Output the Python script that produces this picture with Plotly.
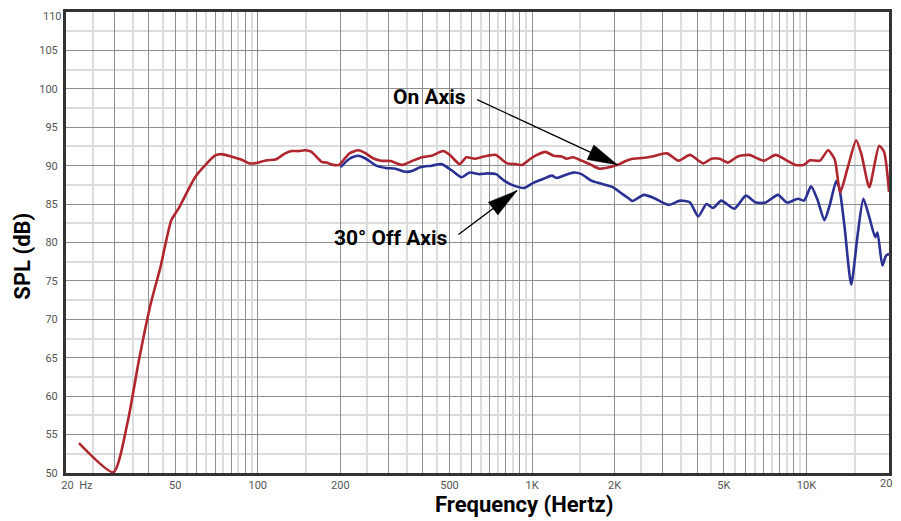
import math
import plotly.graph_objects as go

# ---------------- data ----------------
on_freq = [22.3, 29.8, 33.5, 36.9, 40.7, 44.2, 48.4, 51.4, 59.1, 64.1, 69.7, 73.6, 80.0, 86.9, 93.1,
           97.1, 108, 116, 126, 133, 141, 149, 157, 171, 178, 188, 198, 204, 216, 232, 245, 262,
           281, 305, 336, 365, 397, 431, 474, 501, 545, 576, 617, 652, 689, 739, 770, 813, 871,
           921, 987, 1042, 1117, 1197, 1282, 1336, 1412, 1513, 1622, 1762, 1914, 2050, 2196, 2322,
           2522, 2740, 3102, 3418, 3764, 4204, 4504, 4826, 5172, 5618, 6186, 7002, 7716, 8502,
           9106, 9752, 10310, 11202, 11998, 12684, 13274, 14158, 15180, 15862, 16952, 18410,
           19190, 20000]
on_db = [53.9, 50.1, 56.5, 64.7, 72.0, 76.8, 82.9, 84.4, 88.5, 90.0, 91.3, 91.5, 91.2, 90.8, 90.3,
         90.3, 90.7, 90.8, 91.6, 91.9, 91.9, 92.0, 91.8, 90.5, 90.4, 90.1, 90.1, 90.6, 91.6, 92.0,
         91.7, 91.0, 90.65, 90.6, 90.1, 90.6, 91.1, 91.3, 91.9, 91.4, 90.2, 91.1, 90.9, 91.1, 91.3,
         91.4, 90.9, 90.3, 90.2, 90.1, 90.9, 91.4, 91.8, 91.3, 91.2, 90.9, 91.1, 90.65, 90.2, 89.6,
         89.8, 90.1, 90.6, 90.9, 91.0, 91.2, 91.6, 90.65, 91.4, 90.3, 90.9, 90.9, 90.4, 91.2, 91.4,
         90.65, 91.4, 90.65, 90.1, 90.1, 90.7, 90.65, 92.0, 90.8, 86.5, 89.8, 93.3, 91.5, 87.2,
         92.6, 91.8, 86.6]

off_freq = [200.5, 216, 232, 248, 270, 293, 318, 346, 365, 391, 431, 468, 509, 553, 592, 643, 689,
            739, 791, 859, 934, 1014, 1102, 1180, 1230, 1301, 1412, 1513, 1643, 1762, 1967, 2137,
            2260, 2322, 2558, 2778, 3146, 3464, 3764, 4034, 4320, 4568, 4892, 5462, 6018, 6538,
            7102, 7878, 8502, 9298, 9810, 10396, 10968, 11630, 12170, 12844, 13164, 13778, 14564,
            15382, 16126, 16952, 17810, 18154, 18920, 19508, 20000]
off_db = [89.8, 90.9, 91.3, 90.9, 90.0, 89.7, 89.6, 89.2, 89.3, 89.8, 90.0, 90.2, 89.4, 88.5, 89.1,
          88.9, 89.0, 88.9, 88.05, 87.4, 87.1, 87.8, 88.3, 88.7, 88.4, 88.7, 89.1, 88.9, 88.05, 87.7,
          87.2, 86.3, 85.7, 85.4, 86.2, 85.8, 84.9, 85.45, 85.2, 83.4, 85.0, 84.5, 85.45, 84.4, 86.1,
          85.2, 85.2, 86.2, 85.2, 85.7, 85.45, 87.3, 85.6, 82.9, 84.9, 88.0, 87.2, 82.0, 74.5, 81.1,
          85.7, 83.3, 80.7, 81.3, 77.0, 78.3, 78.5]

NB = "\u00a0"
x_label_vals = [20, 50, 100, 200, 500, 1000, 2000, 5000, 10000, 20000]
x_label_text = [NB * 8 + "20" + NB * 2 + "Hz", "50", "100", "200", "500",
                "1K", "2K", "5K", "10K", "20K"]
y_tick_vals = list(range(50, 111, 5))

# ---------------- layout constants ----------------
# page body has an 8px margin; visible plot area spans screen x 66..892, y 11..473
W, H = 885, 513
ML, MT = 58, 3
PW, PH = 826, 462
MR = W - ML - PW
MB = H - MT - PH
XMIN, XMAX = 20, 20000
YMIN, YMAX = 50, 110

FONT = "Roboto, Liberation Sans, sans-serif"
RED = "#b0262e"
BLUE = "#2b3192"

# grid positions
major_x = []
minor_x = []
for dec in (10, 100, 1000, 10000):
    for m in range(1, 10):
        v = m * dec
        if XMIN <= v <= XMAX:
            major_x.append(v)
        h = (m + 0.5) * dec
        if XMIN < h < XMAX:
            minor_x.append(h)
label_map = dict(zip(x_label_vals, x_label_text))
major_text = [label_map.get(v, "") for v in major_x]
minor_y = [v + 2.5 for v in y_tick_vals[:-1]]

fig = go.Figure()
fig.add_trace(go.Scatter(x=off_freq, y=off_db, mode="lines",
                         line=dict(color=BLUE, width=2.6, shape="spline", smoothing=0.6),
                         hoverinfo="skip", showlegend=False))
fig.add_trace(go.Scatter(x=on_freq, y=on_db, mode="lines",
                         line=dict(color=RED, width=2.6, shape="spline", smoothing=0.6),
                         hoverinfo="skip", showlegend=False))

fig.update_layout(
    width=W, height=H,
    margin=dict(l=ML, r=MR, t=MT, b=MB, pad=0),
    paper_bgcolor="white", plot_bgcolor="white",
    font=dict(family=FONT, color="#555"),
    showlegend=False,
)
fig.update_xaxes(
    type="log", range=[math.log10(XMIN), math.log10(XMAX)],
    tickmode="array", tickvals=major_x, ticktext=major_text,
    tickfont=dict(family=FONT, size=11, color="#555"),
    showgrid=True, gridcolor="#8e8e8e", gridwidth=1.2,
    minor=dict(tickmode="array", tickvals=minor_x, showgrid=True,
               gridcolor="#dcdcdc", gridwidth=1.6, ticks=""),
    showline=True, linecolor="#333", linewidth=3, mirror=True,
    ticks="", ticklabelstandoff=0, zeroline=False,
)
fig.update_yaxes(
    range=[YMIN, YMAX], tickmode="array", tickvals=y_tick_vals,
    tickfont=dict(family=FONT, size=11, color="#555"),
    showgrid=True, gridcolor="#8e8e8e", gridwidth=1.2,
    minor=dict(tickmode="array", tickvals=minor_y, showgrid=True,
               gridcolor="#dcdcdc", gridwidth=1.6, ticks=""),
    showline=True, linecolor="#333", linewidth=3, mirror=True,
    ticks="", ticklabelstandoff=3, zeroline=False,
)

# edge tick labels that plotly drops because they touch the figure border
fig.add_annotation(x=0, y=1, xref="paper", yref="paper", text=str(y_tick_vals[-1]),
                   showarrow=False, xanchor="right", yanchor="top", xshift=-3, yshift=3,
                   borderpad=0, font=dict(family=FONT, size=11, color="#555"))
fig.add_annotation(x=1, y=0, xref="paper", yref="paper", text=x_label_text[-1],
                   showarrow=False, xanchor="center", yanchor="top", yshift=-2,
                   font=dict(family=FONT, size=11, color="#555"))


def to_paper(f, db):
    px = (math.log10(f) - math.log10(XMIN)) / (math.log10(XMAX) - math.log10(XMIN))
    py = (db - YMIN) / (YMAX - YMIN)
    return px, py


def add_arrow(tip_f, tip_db, ax, ay, text, text_dx, text_dy):
    # line
    fig.add_annotation(x=math.log10(tip_f), y=tip_db, xref="x", yref="y",
                       ax=ax, ay=ay, axref="pixel", ayref="pixel",
                       text="", showarrow=True, arrowhead=0, arrowwidth=1.3,
                       arrowcolor="black")
    # head
    tx, ty = to_paper(tip_f, tip_db)
    length = math.hypot(ax, ay)
    ux, uy = -ax / length, -ay / length   # pixel direction tail->tip (screen y down)
    L, Wd = 30, 8
    bx, by = -ux * L, -uy * L
    nx, ny = -uy * Wd, ux * Wd
    pts = [(0, 0), (bx + nx, by + ny), (bx - nx, by - ny)]
    path = "M " + " L ".join(f"{tx + px / PW:.5f},{ty - py / PH:.5f}" for px, py in pts) + " Z"
    fig.add_shape(type="path", path=path, xref="paper", yref="paper",
                  fillcolor="black", line=dict(color="black", width=0.5))
    # label
    lx = tx + (ax + text_dx) / PW
    ly = ty - (ay + text_dy) / PH
    fig.add_annotation(x=lx, y=ly, xref="paper", yref="paper", text=text, showarrow=False,
                       xanchor="right", yanchor="middle",
                       font=dict(family=FONT, size=21, color="black", weight="bold"))


add_arrow(2050, 90.1, -142, -66, "On Axis", -8, -2)
add_arrow(881, 86.75, -60, 45, "30° Off Axis", -7, 2)

# axis titles
fig.add_annotation(x=(518 - ML) / PW, y=-(497 - (MT + PH)) / PH, xref="paper", yref="paper",
                   text="Frequency (Hertz)", showarrow=False, xanchor="center", yanchor="middle",
                   font=dict(family=FONT, size=22, color="black", weight="bold"))
fig.add_annotation(x=(14 - ML) / PW, y=((MT + PH) - 248) / PH, xref="paper", yref="paper",
                   text="SPL (dB)", showarrow=False, textangle=-90,
                   xanchor="center", yanchor="middle",
                   font=dict(family=FONT, size=22, color="black", weight="bold"))

fig.write_html("out.html")
